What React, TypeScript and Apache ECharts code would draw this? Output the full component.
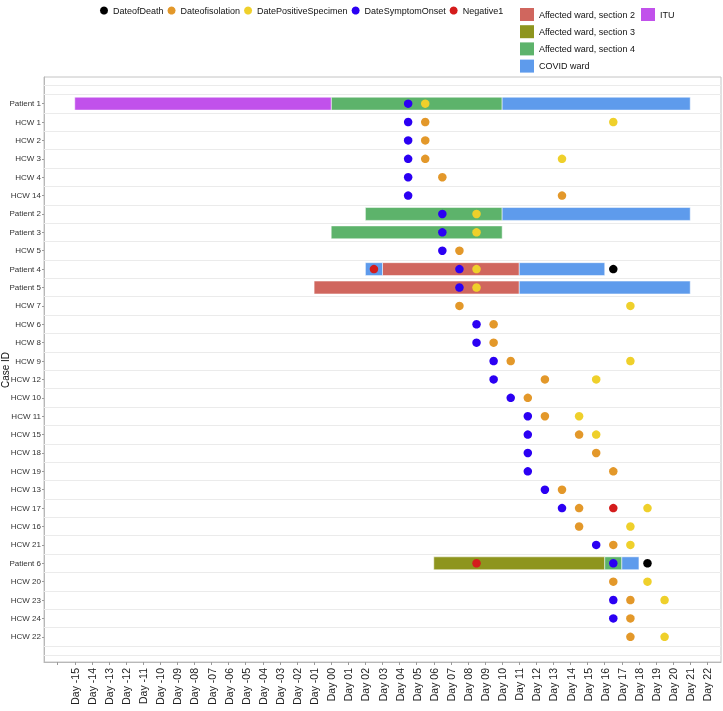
import React, { useEffect, useRef } from "react";
import * as echarts from "echarts";

const caseIds = [
  "Patient 1", "HCW 1", "HCW 2", "HCW 3", "HCW 4", "HCW 14", "Patient 2", "Patient 3",
  "HCW 5", "Patient 4", "Patient 5", "HCW 7", "HCW 6", "HCW 8", "HCW 9", "HCW 12",
  "HCW 10", "HCW 11", "HCW 15", "HCW 18", "HCW 19", "HCW 13", "HCW 17", "HCW 16",
  "HCW 21", "Patient 6", "HCW 20", "HCW 23", "HCW 24", "HCW 22",
];

const dayLabels = [
  -15, -14, -13, -12, -11, -10, -9, -8, -7, -6, -5, -4, -3, -2, -1, 0, 1, 2, 3, 4, 5,
  6, 7, 8, 9, 10, 11, 12, 13, 14, 15, 16, 17, 18, 19, 20, 21, 22,
];
const dayTicks = [-16, ...dayLabels];

// Ward stays: [case, startDay, endDay]
const wardITU: [string, number, number][] = [["Patient 1", -15, 0]];
const wardSection2: [string, number, number][] = [
  ["Patient 4", 3, 11],
  ["Patient 5", -1, 11],
];
const wardSection3: [string, number, number][] = [["Patient 6", 6, 16]];
const wardSection4: [string, number, number][] = [
  ["Patient 1", 0, 10],
  ["Patient 2", 2, 10],
  ["Patient 3", 0, 10],
  ["Patient 6", 16, 17],
];
const wardCovid: [string, number, number][] = [
  ["Patient 1", 10, 21],
  ["Patient 2", 10, 21],
  ["Patient 4", 2, 3],
  ["Patient 4", 11, 16],
  ["Patient 5", 11, 21],
  ["Patient 6", 17, 18],
];

// Events: [case, day]
const dateOfDeath: [string, number][] = [
  ["Patient 4", 16.5],
  ["Patient 6", 18.5],
];
const dateOfIsolation: [string, number][] = [
  ["HCW 1", 5.5], ["HCW 2", 5.5], ["HCW 3", 5.5], ["HCW 4", 6.5], ["HCW 14", 13.5],
  ["HCW 5", 7.5], ["HCW 7", 7.5], ["HCW 6", 9.5], ["HCW 8", 9.5], ["HCW 9", 10.5],
  ["HCW 12", 12.5], ["HCW 10", 11.5], ["HCW 11", 12.5], ["HCW 15", 14.5], ["HCW 18", 15.5],
  ["HCW 19", 16.5], ["HCW 13", 13.5], ["HCW 17", 14.5], ["HCW 16", 14.5], ["HCW 21", 16.5],
  ["HCW 20", 16.5], ["HCW 23", 17.5], ["HCW 24", 17.5], ["HCW 22", 17.5],
];
const datePositiveSpecimen: [string, number][] = [
  ["Patient 1", 5.5], ["HCW 1", 16.5], ["HCW 3", 13.5], ["Patient 2", 8.5], ["Patient 3", 8.5],
  ["Patient 4", 8.5], ["Patient 5", 8.5], ["HCW 7", 17.5], ["HCW 9", 17.5], ["HCW 12", 15.5],
  ["HCW 11", 14.5], ["HCW 15", 15.5], ["HCW 17", 18.5], ["HCW 16", 17.5], ["HCW 21", 17.5],
  ["HCW 20", 18.5], ["HCW 23", 19.5], ["HCW 22", 19.5],
];
const dateSymptomOnset: [string, number][] = [
  ["Patient 1", 4.5], ["HCW 1", 4.5], ["HCW 2", 4.5], ["HCW 3", 4.5], ["HCW 4", 4.5],
  ["HCW 14", 4.5], ["Patient 2", 6.5], ["Patient 3", 6.5], ["HCW 5", 6.5], ["Patient 4", 7.5],
  ["Patient 5", 7.5], ["HCW 6", 8.5], ["HCW 8", 8.5], ["HCW 9", 9.5], ["HCW 12", 9.5],
  ["HCW 10", 10.5], ["HCW 11", 11.5], ["HCW 15", 11.5], ["HCW 18", 11.5], ["HCW 19", 11.5],
  ["HCW 13", 12.5], ["HCW 17", 13.5], ["HCW 21", 15.5], ["Patient 6", 16.5], ["HCW 23", 16.5],
  ["HCW 24", 16.5],
];
const negative1: [string, number][] = [
  ["Patient 4", 2.5],
  ["HCW 17", 16.5],
  ["Patient 6", 8.5],
];

const FONT = "Liberation Sans, Arial, Helvetica, sans-serif";

const fmtDay = (v: number) => {
  const a = Math.abs(Math.round(v));
  const s = a < 10 ? "0" + a : String(a);
  return "Day " + (v < 0 ? "-" + s : s);
};

export default function App() {
  const ref = useRef<HTMLDivElement>(null);
  useEffect(() => {
    if (!ref.current) return;
    const chart = echarts.init(ref.current, undefined, { renderer: "svg" });
    const rowOf = (c: string) => caseIds.indexOf(c);

    const wardSeries = (name: string, color: string, items: [string, number, number][]) => ({
      name,
      type: "custom",
      color,
      itemStyle: { color },
      z: 2,
      encode: { x: [0, 1], y: 2 },
      data: items.map(([c, s, e]) => [s, e, rowOf(c)]),
      renderItem: (params: any, api: any) => {
        const p0 = api.coord([api.value(0), api.value(2)]);
        const p1 = api.coord([api.value(1), api.value(2)]);
        const h = api.size([0, 1])[1] * 0.7;
        return {
          type: "rect",
          shape: { x: p0[0], y: p0[1] - h / 2, width: p1[0] - p0[0], height: h },
          style: { fill: color, stroke: "rgba(255,255,255,0.5)", lineWidth: 1 },
        };
      },
    });

    const dotSeries = (name: string, color: string, items: [string, number][]) => ({
      name,
      type: "scatter",
      color,
      itemStyle: { color, opacity: 1 },
      symbol: "circle",
      symbolSize: 8.5,
      z: 4,
      data: items.map(([c, d]) => [d, rowOf(c)]),
    });

    const gridLines = [-1, ...caseIds.map((_, i) => i - 0.5), caseIds.length - 0.5, caseIds.length];

    chart.setOption({
      animation: false,
      textStyle: { fontFamily: FONT },
      grid: {
        left: 44,
        right: 2,
        top: 77,
        bottom: 49,
        show: true,
        borderColor: "#c4c4c4",
        borderWidth: 1,
        backgroundColor: "#ffffff",
      },
      graphic: [
        {
          type: "text",
          x: 5,
          y: 370,
          rotation: Math.PI / 2,
          style: {
            text: "Case ID",
            align: "center",
            verticalAlign: "middle",
            fontSize: 10,
            fill: "#111",
            fontFamily: FONT,
          },
        },
      ],
      legend: [
        {
          data: ["DateofDeath", "Dateofisolation", "DatePositiveSpecimen", "DateSymptomOnset", "Negative1"].map(
            (n) => ({ name: n, icon: "circle", itemStyle: { opacity: 1 } })
          ),
          left: 95,
          top: 1,
          itemWidth: 8,
          itemHeight: 8,
          itemGap: 4,
          textStyle: { fontSize: 9, color: "#111", fontFamily: FONT },
        },
        {
          data: [
            "Affected ward, section 2",
            "Affected ward, section 3",
            "Affected ward, section 4",
            "COVID ward",
          ].map((n) => ({ name: n, icon: "rect" })),
          orient: "vertical",
          left: 515,
          top: 3,
          itemWidth: 14,
          itemHeight: 13,
          itemGap: 4.2,
          textStyle: { fontSize: 9, color: "#111", fontFamily: FONT },
        },
        {
          data: [{ name: "ITU", icon: "rect" }],
          orient: "vertical",
          left: 636,
          top: 3,
          itemWidth: 14,
          itemHeight: 13,
          textStyle: { fontSize: 9, color: "#111", fontFamily: FONT },
        },
      ],
      xAxis: {
        type: "value",
        min: -16.8,
        max: 22.8,
        axisLine: { show: true, onZero: false, lineStyle: { color: "#b8b8b8", width: 1 } },
        axisTick: {
          show: true,
          customValues: dayTicks,
          length: 3,
          lineStyle: { color: "#9a9a9a" },
        },
        axisLabel: {
          customValues: dayLabels,
          rotate: 90,
          margin: 6,
          fontSize: 10.5,
          color: "#222",
          fontFamily: FONT,
          formatter: (v: number) => fmtDay(v),
        },
        splitLine: { show: false },
      },
      yAxis: {
        type: "value",
        inverse: true,
        min: -1.45,
        max: 30.37,
        axisLine: { show: true, onZero: false, lineStyle: { color: "#b8b8b8", width: 1 } },
        axisTick: {
          show: true,
          customValues: caseIds.map((_, i) => i),
          length: 2,
          lineStyle: { color: "#9a9a9a" },
        },
        axisLabel: {
          customValues: caseIds.map((_, i) => i),
          margin: 3,
          fontSize: 8,
          color: "#333",
          fontFamily: FONT,
          formatter: (v: number) => caseIds[Math.round(v)] ?? "",
        },
        splitLine: { show: false },
      },
      series: [
        {
          name: "gridlines",
          type: "line",
          data: [],
          silent: true,
          z: 1,
          markLine: {
            silent: true,
            symbol: ["none", "none"],
            label: { show: false },
            lineStyle: { color: "#ebebeb", width: 1, type: "solid" },
            data: gridLines.map((v) => ({ yAxis: v })),
          },
        },
        wardSeries("Affected ward, section 2", "#D0665E", wardSection2),
        wardSeries("Affected ward, section 3", "#8E951E", wardSection3),
        wardSeries("Affected ward, section 4", "#5DB36B", wardSection4),
        wardSeries("COVID ward", "#5E9BEC", wardCovid),
        wardSeries("ITU", "#C151EB", wardITU),
        dotSeries("DateofDeath", "#000000", dateOfDeath),
        dotSeries("Dateofisolation", "#E3982A", dateOfIsolation),
        dotSeries("DatePositiveSpecimen", "#EFD02B", datePositiveSpecimen),
        dotSeries("DateSymptomOnset", "#2B00F3", dateSymptomOnset),
        dotSeries("Negative1", "#D41C1C", negative1),
      ],
    });
    return () => chart.dispose();
  }, []);
  return <div ref={ref} style={{ position: "fixed", left: 0, top: 0, width: 723, height: 711 }} />;
}
